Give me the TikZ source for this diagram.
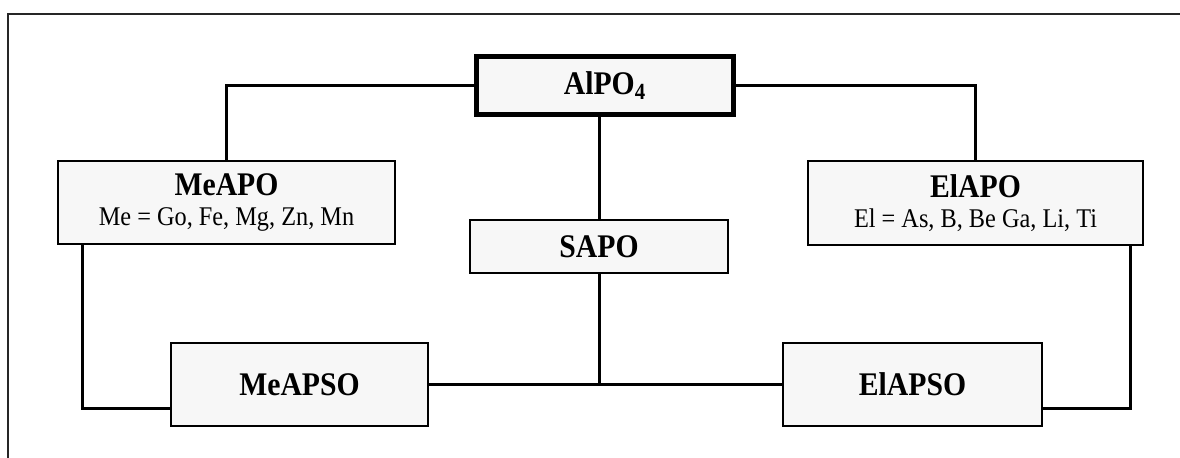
\documentclass[tikz,border=0pt]{standalone}
\usepackage{fontspec}
\setmainfont{Liberation Serif}[FakeStretch=0.9]
\definecolor{boxfill}{HTML}{F7F7F7}

\begin{document}
\begin{tikzpicture}[x=0.5pt, y=-0.5pt,
	every node/.style={font=\fontsize{16.5}{18}\selectfont\bfseries},
	box/.style={draw, fill=boxfill, line width=1pt, inner sep=0pt, align=center},
	link/.style={line width=1.5pt}]
	\useasboundingbox (0,0) rectangle (1180,457);
	% page frame
	\draw[line width=1pt, black!85] (8,470) -- (8,14) -- (1190,14);
	\node[box, line width=2.5pt, minimum width=128.5pt, minimum height=29pt] (alpo) at (605,85.5) {AlPO\textsubscript{4}};
	\node[box, minimum width=168.5pt, minimum height=41.5pt] (meapo) at (226.5,202.5) {MeAPO\\[-3pt]{\fontsize{13.5}{15}\selectfont\mdseries Me = Go, Fe, Mg, Zn, Mn}};
	\node[box, minimum width=167.5pt, minimum height=42pt] (elapo) at (975.5,203) {ElAPO\\[-3pt]{\fontsize{13.5}{15}\selectfont\mdseries El = As, B, Be Ga, Li, Ti}};
	\node[box, minimum width=129pt, minimum height=26.5pt] (sapo) at (599,246.5) {SAPO};
	\node[box, minimum width=128.5pt, minimum height=41.5pt] (meapso) at (299.5,384.5) {MeAPSO};
	\node[box, minimum width=129.5pt, minimum height=41.5pt] (elapso) at (912.5,384.5) {ElAPSO};
	\draw[link] (alpo.west) -| (meapo.north);
	\draw[link] (alpo.east) -| (elapo.north);
	\draw[link] (alpo.south -| sapo.north) -- (sapo.north);
	\draw[link] (sapo.south) -- (sapo.south |- meapso.east);
	\draw[link] (meapso.east) -- (elapso.west);
	\draw[link] ([xshift=12.5pt]meapo.south west) |- ([yshift=-12pt]meapso.west);
	\draw[link] ([xshift=-7pt]elapo.south east) |- ([yshift=-12pt]elapso.east);
\end{tikzpicture}
\end{document}
